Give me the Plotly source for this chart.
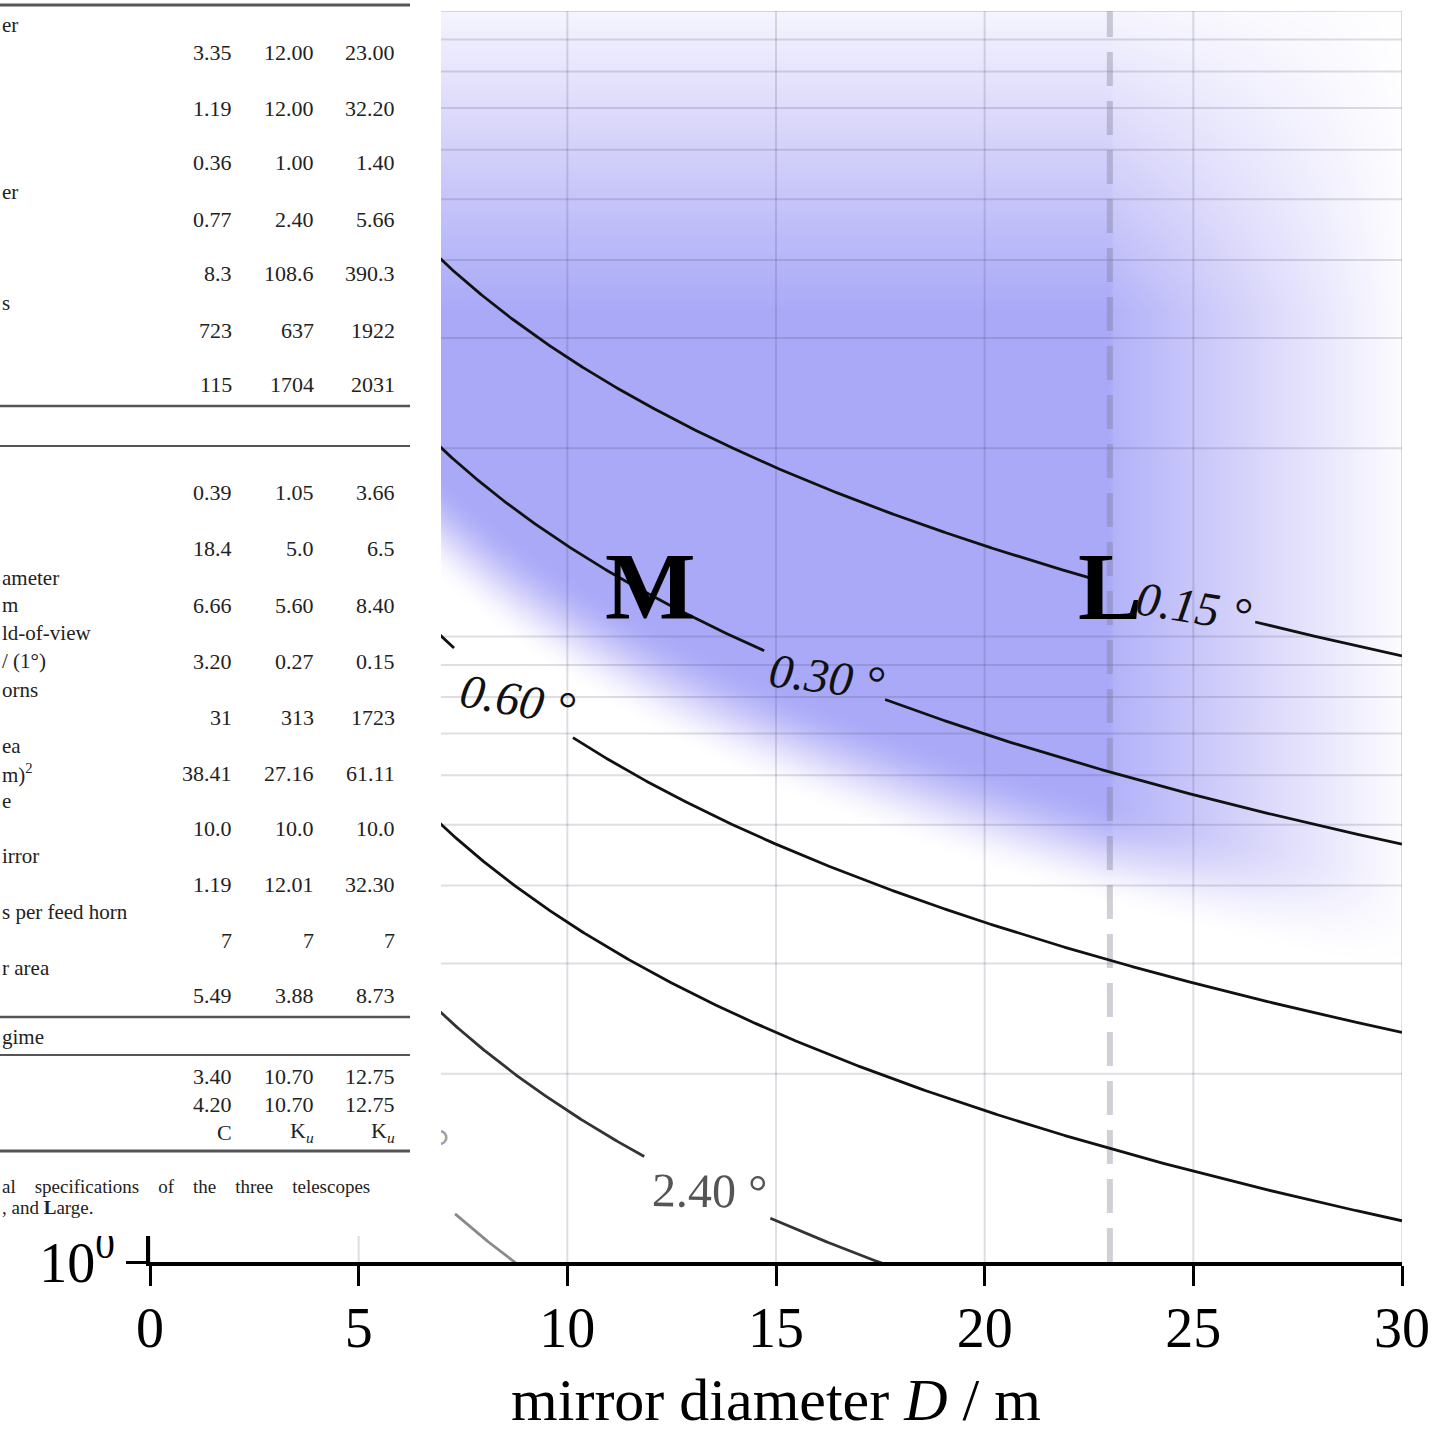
import numpy as np
import plotly.graph_objects as go

# ---------------- figure geometry ----------------
W, H = 1445, 1433
ML, MR, MT, MB = 150, 43, 11, 171
SERIF = "Liberation Serif"

# ---------------- chart data ----------------
K_BEAM = 41.9                      # beam width [deg] * f [GHz] * D [m]
levels = [0.15, 0.30, 0.60, 1.20, 2.40, 4.80]
level_text = ["0.15 °", "0.30 °", "0.60 °", "", "2.40 °", "4.80 °"]
label_D = [25.0, 16.2, 8.8, 4.3, 13.4, 5.8]
gap_lo = [22.65, 14.74, 7.31, 3.0, 11.86, 4.6]
gap_hi = [26.48, 17.61, 10.11, 5.6, 14.86, 7.3]
line_colors = ["#111111", "#111111", "#111111", "#111111", "#333333", "#8a8a8a"]
label_colors = ["#111111", "#111111", "#111111", "#111111", "#555555", "#a0a0a0"]
label_italic = [True, True, True, True, False, False]
label_angle = [9, 7, 10, 8, 1, 0]

telescopes = ["M", "L"]
tel_D = [12.0, 23.0]
tel_label_f = 12.0
marker_D = 23.0                    # dashed line (Large telescope)

x_ticks = [0, 5, 10, 15, 20, 25, 30]
y_ticks = [1, 10, 100]
y_ticktext = ["10<sup>0</sup>", "10<sup>1</sup>", "10<sup>2</sup>"]
y_grid = [2, 3, 4, 5, 6, 7, 8, 9, 10, 20, 30, 40, 50, 60, 70, 80, 90, 100]

# shading parameters
shade_edge_lo, shade_edge_hi = 1.93, 2.10   # log10(f*D) soft lower edge
shade_top_lo, shade_top_span = 2.07, 0.55   # vertical fade near the top
shade_right_start, shade_right_end = 23.0, 30.3

# ---------------- table overlay data ----------------
table_cols_px = [234, 316, 397]
block1 = [["3.35", "12.00", "23.00"], ["1.19", "12.00", "32.20"], ["0.36", "1.00", "1.40"],
          ["0.77", "2.40", "5.66"], ["8.3", "108.6", "390.3"], ["723", "637", "1922"],
          ["115", "1704", "2031"]]
block1_y = [52, 108, 163, 219, 274, 330, 385]
block2 = [["0.39", "1.05", "3.66"], ["18.4", "5.0", "6.5"], ["6.66", "5.60", "8.40"],
          ["3.20", "0.27", "0.15"], ["31", "313", "1723"], ["38.41", "27.16", "61.11"],
          ["10.0", "10.0", "10.0"], ["1.19", "12.01", "32.30"], ["7", "7", "7"],
          ["5.49", "3.88", "8.73"]]
block2_y = [493, 549, 605, 661, 717, 773, 828, 884, 940, 995]
block3 = [["3.40", "10.70", "12.75"], ["4.20", "10.70", "12.75"],
          ["C", "K<sub><i>u</i></sub>", "K<sub><i>u</i></sub>"]]
block3_y = [1076, 1104, 1132]
row_labels = ["er", "er", "s", "ameter", "m", "ld-of-view", "/ (1°)", "orns", "ea",
              "m)<sup>2</sup>", "e", "irror", "s per feed horn", "r area", "gime"]
row_labels_y = [25, 192, 303, 578, 605, 633, 661, 690, 746, 773, 801, 856, 912, 968, 1037]
NB = "\u00a0"
caption = [f"al {NB*3}specifications {NB*3}of {NB*3}the {NB*3}three {NB*3}telescopes",
           ", and <b>L</b>arge."]
caption_y = [1186, 1207]
rules_y = [5, 406, 446, 1017, 1055, 1151]
rules_w = [3, 2.5, 2, 2.5, 2, 3]


def pxx(p):
    return (p - ML) / (W - ML - MR)


def pxy(p):
    return (H - MB - p) / (H - MT - MB)


fig = go.Figure()

# ---------------- blue shading ----------------
Dg = np.linspace(0, 30, 301)
lf = np.linspace(0, 2, 201)
fg = 10 ** lf
DD, FF = np.meshgrid(Dg, fg)
LL = np.log10(np.maximum(DD * FF, 1e-9))
t = np.clip((LL - shade_edge_lo) / (shade_edge_hi - shade_edge_lo), 0, 1)
a_edge = t * t * (3 - 2 * t)
a_top = np.clip((shade_top_lo - np.log10(FF)) / shade_top_span, 0, 1)
a_right = np.where(DD <= shade_right_start, 1.0,
                   0.9 * np.clip((shade_right_end - DD) / (shade_right_end - shade_right_start), 0, 1))
Z = a_edge * a_top * a_right
fig.add_trace(go.Heatmap(x=Dg, y=fg, z=Z, zmin=0, zmax=1, zsmooth="best", showscale=False,
                         hoverinfo="skip",
                         colorscale=[[0, "#ffffff"], [0.5, "#d6d3fa"], [1, "#a9a9f8"]]))

# ---------------- grid lines (drawn above shading) ----------------
gx, gy = [], []
for xv in x_ticks:
    gx += [xv, xv, None]
    gy += [y_ticks[0], y_ticks[-1], None]
for yv in y_grid:
    gx += [x_ticks[0], x_ticks[-1], None]
    gy += [yv, yv, None]
fig.add_trace(go.Scatter(x=gx, y=gy, mode="lines", hoverinfo="skip", showlegend=False,
                         line=dict(color="rgba(60,60,90,0.17)", width=2)))

# dashed marker line
fig.add_trace(go.Scatter(x=[marker_D, marker_D], y=[y_ticks[0], y_ticks[-1]], mode="lines",
                         hoverinfo="skip", showlegend=False,
                         line=dict(color="rgba(120,120,140,0.35)", width=6, dash="34px,15px")))

# ---------------- contour lines ----------------
Dl = np.linspace(0.3, 30, 1200)
for i, th in enumerate(levels):
    yv = K_BEAM / (th * Dl)
    yv = np.where((Dl > gap_lo[i]) & (Dl < gap_hi[i]), np.nan, yv)
    yl = [None if np.isnan(v) else float(v) for v in yv]
    fig.add_trace(go.Scatter(x=Dl, y=yl, mode="lines", hoverinfo="skip", showlegend=False,
                             line=dict(color=line_colors[i], width=2.8)))

# labels hidden behind the table -> text traces (under the overlay)
annotations = []
for i, th in enumerate(levels):
    if not level_text[i]:
        continue
    yl = K_BEAM / (th * label_D[i])
    font = dict(family=SERIF, size=48, color=label_colors[i],
                style="italic" if label_italic[i] else "normal")
    if label_D[i] < 7.0:
        fig.add_trace(go.Scatter(x=[label_D[i]], y=[yl], mode="text", text=[level_text[i]],
                                 textfont=font, hoverinfo="skip", showlegend=False,
                                 cliponaxis=False))
    else:
        annotations.append(dict(x=label_D[i], y=np.log10(yl), xref="x", yref="y",
                                text=level_text[i], showarrow=False, textangle=label_angle[i],
                                font=font, xanchor="center", yanchor="middle"))

for name, d in zip(telescopes, tel_D):
    annotations.append(dict(x=d, y=np.log10(tel_label_f), xref="x", yref="y", text=f"<b>{name}</b>",
                            showarrow=False, font=dict(family=SERIF, size=96, color="#000000"),
                            xanchor="center", yanchor="middle"))

# ---------------- table overlay ----------------
shapes = [dict(type="rect", xref="paper", yref="paper", x0=pxx(-10), x1=pxx(441),
               y0=pxy(-10), y1=pxy(1236), fillcolor="#ffffff", line=dict(width=0), layer="above")]
for ry, rw in zip(rules_y, rules_w):
    shapes.append(dict(type="line", xref="paper", yref="paper", x0=pxx(-5), x1=pxx(410),
                       y0=pxy(ry), y1=pxy(ry), line=dict(color="#555555", width=rw), layer="above"))

tfont = dict(family=SERIF, size=22, color="#222222")
lfont = dict(family=SERIF, size=21, color="#222222")
for block, ys in ((block1, block1_y), (block2, block2_y), (block3, block3_y)):
    for row, ry in zip(block, ys):
        for val, cx in zip(row, table_cols_px):
            annotations.append(dict(x=pxx(cx), y=pxy(ry), xref="paper", yref="paper", text=val,
                                    showarrow=False, xanchor="right", yanchor="middle", font=tfont))
for lab, ry in zip(row_labels, row_labels_y):
    annotations.append(dict(x=pxx(0), y=pxy(ry), xref="paper", yref="paper", text=lab,
                            showarrow=False, xanchor="left", yanchor="middle", font=lfont))
for cap, ry in zip(caption, caption_y):
    annotations.append(dict(x=pxx(0), y=pxy(ry), xref="paper", yref="paper", text=cap,
                            showarrow=False, xanchor="left", yanchor="middle",
                            font=dict(family=SERIF, size=19, color="#222222")))

axis_common = dict(showgrid=False, zeroline=False, showline=True, linewidth=4, linecolor="#000000",
                   ticks="outside", ticklen=20, tickwidth=3, tickcolor="#000000",
                   tickfont=dict(family=SERIF, size=56, color="#000000"))

fig.update_layout(
    width=W, height=H,
    margin=dict(l=ML, r=MR, t=MT, b=MB, autoexpand=False),
    paper_bgcolor="#ffffff", plot_bgcolor="#ffffff",
    showlegend=False,
    font=dict(family=SERIF, color="#000000"),
    xaxis=dict(range=[0, 30], tickvals=x_ticks, ticklabelstandoff=-6,
               title=dict(text="mirror diameter <i>D</i> / m", standoff=32,
                          font=dict(family=SERIF, size=60, color="#000000")),
               **axis_common),
    yaxis=dict(type="log", range=[0, 2], tickvals=y_ticks, ticktext=y_ticktext, **axis_common),
    shapes=shapes,
    annotations=annotations,
)

fig.write_html("out.html", config={"displayModeBar": False},
               post_script="document.body.style.margin='0';document.body.style.overflow='hidden';")
